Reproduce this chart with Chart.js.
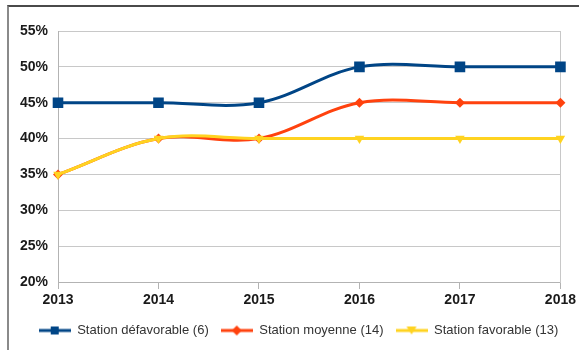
<!doctype html>
<html lang="fr">
  <head>
    <meta charset="utf-8">
    <title>Stations</title>
    <style>
      * {
        margin: 0;
        padding: 0;
      }
      body {
        width: 579px;
        height: 350px;
        background: white;
        position: relative;
        overflow: hidden;
      }
      .frame {
        position: absolute;
        left: 7px;
        top: 5px;
        width: 580px;
        height: 360px;
        border-top: 2px solid #4a4a4a;
        border-left: 2px solid #8a8a8a;
      }
      #myChart {
        position: absolute;
        left: 0;
        top: 0;
      }
    </style>
  </head>
  <body>
    <div class="frame"></div>
    <canvas id="myChart" width="579" height="350"></canvas>
    <script src="https://cdn.jsdelivr.net/npm/chart.js/dist/chart.umd.min.js"></script>
    <script>
    // data
    const years = ['2013', '2014', '2015', '2016', '2017', '2018'];
    const defavorable = [45, 45, 45, 50, 50, 50];
    const moyenne = [35, 40, 40, 45, 45, 45];
    const favorable = [35, 40, 40, 40, 40, 40];
    const seriesNames = ['Station défavorable (6)', 'Station moyenne (14)', 'Station favorable (13)'];
    const seriesColors = ['#004586', '#ff420e', '#ffd320'];
    const yTicks = [20, 25, 30, 35, 40, 45, 50, 55];

    // small legend glyph : line + marker
    function legendGlyph(color, shape) {
      const c = document.createElement('canvas');
      c.width = 32;
      c.height = 14;
      const ctx = c.getContext('2d');
      ctx.strokeStyle = color;
      ctx.fillStyle = color;
      ctx.lineWidth = 3;
      ctx.beginPath();
      ctx.moveTo(0, 7);
      ctx.lineTo(32, 7);
      ctx.stroke();
      ctx.beginPath();
      if (shape === 'rect') {
        ctx.rect(12, 3, 8, 8);
      } else if (shape === 'diamond') {
        ctx.moveTo(16, 2); ctx.lineTo(21, 7); ctx.lineTo(16, 12); ctx.lineTo(11, 7);
      } else {
        ctx.moveTo(11, 3); ctx.lineTo(21, 3); ctx.lineTo(16, 11);
      }
      ctx.closePath();
      ctx.fill();
      return c;
    }
    const glyphs = [
      legendGlyph(seriesColors[0], 'rect'),
      legendGlyph(seriesColors[1], 'diamond'),
      legendGlyph(seriesColors[2], 'tri')
    ];

    // setup
    const data = {
      labels: years,
      datasets: [{
        label: seriesNames[0],
        data: defavorable,
        borderColor: seriesColors[0],
        backgroundColor: seriesColors[0],
        pointStyle: 'rect',
        pointRadius: 7.5,
        order: 2
      }, {
        label: seriesNames[1],
        data: moyenne,
        borderColor: seriesColors[1],
        backgroundColor: seriesColors[1],
        pointStyle: 'rectRot',
        pointRadius: 5,
        order: 1
      }, {
        label: seriesNames[2],
        data: favorable,
        borderColor: seriesColors[2],
        backgroundColor: seriesColors[2],
        pointStyle: 'triangle',
        pointRotation: 180,
        pointRadius: 5.5,
        order: 0
      }]
    };

    // config
    const config = {
      type: 'line',
      data,
      options: {
        responsive: false,
        animation: false,
        devicePixelRatio: 1,
        layout: {
          padding: { left: 18, right: 0, top: 31, bottom: 3 }
        },
        elements: {
          line: { borderWidth: 3, tension: 0.35 },
          point: { borderWidth: 0, hoverRadius: 6 }
        },
        scales: {
          x: {
            offset: false,
            afterFit: function(scale) {
              scale.height = 30;
            },
            grid: {
              drawOnChartArea: false,
              color: '#b3b3b3',
              tickLength: 7
            },
            border: { color: '#b3b3b3' },
            ticks: {
              color: '#1a1a1a',
              padding: 3,
              font: { family: 'Liberation Sans', size: 14, weight: 'bold' }
            }
          },
          y: {
            min: 20,
            max: 55,
            afterBuildTicks: function(scale) {
              scale.ticks = yTicks.map(v => ({ value: v }));
            },
            afterFit: function(scale) {
              scale.width = 40;
            },
            grid: {
              color: '#c8c8c8',
              drawTicks: false
            },
            border: { color: '#b3b3b3' },
            ticks: {
              color: '#1a1a1a',
              padding: 10,
              font: { family: 'Liberation Sans', size: 14, weight: 'bold' },
              callback: function(v) { return v + '%'; }
            }
          },
          yRight: {
            position: 'right',
            min: 20,
            max: 55,
            afterFit: function(scale) {
              scale.width = 18;
            },
            grid: { display: false },
            ticks: { display: false },
            border: { display: true, color: '#c8c8c8' }
          }
        },
        plugins: {
          tooltip: { enabled: false },
          legend: {
            position: 'bottom',
            labels: {
              usePointStyle: true,
              pointStyleWidth: 32,
              padding: 12,
              color: '#333333',
              font: { family: 'Liberation Sans', size: 13 },
              sort: (a, b) => a.datasetIndex - b.datasetIndex,
              generateLabels: function(chart) {
                return chart.data.datasets.map((ds, i) => ({
                  text: ds.label,
                  pointStyle: glyphs[i],
                  fillStyle: ds.borderColor,
                  strokeStyle: ds.borderColor,
                  lineWidth: 0,
                  fontColor: '#333333',
                  hidden: false,
                  datasetIndex: i
                }));
              }
            }
          }
        }
      }
    };

    // render init block
    const myChart = new Chart(
      document.getElementById('myChart'),
      config
    );
    </script>
  </body>
</html>
